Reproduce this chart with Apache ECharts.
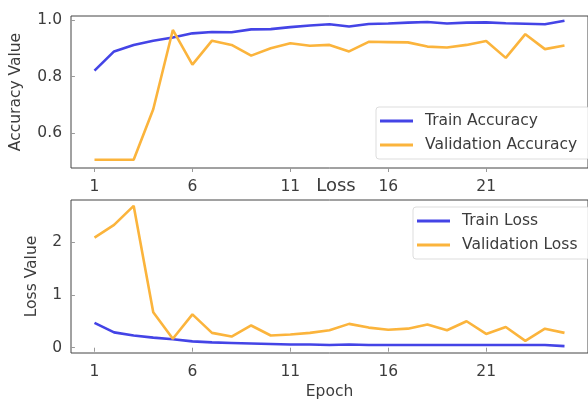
<!DOCTYPE html>
<html><head><meta charset="utf-8">
<script src="https://cdn.jsdelivr.net/npm/echarts@6/dist/echarts.min.js"></script>
<style>html,body{margin:0;padding:0;background:#fff}#c{width:588px;height:401px}</style>
</head><body><div id="c"></div>
<script>
const epochs = [1,2,3,4,5,6,7,8,9,10,11,12,13,14,15,16,17,18,19,20,21,22,23,24,25];
const trainAcc = [0.821,0.889,0.912,0.927,0.938,0.953,0.958,0.957,0.967,0.968,0.975,0.981,0.985,0.977,0.986,0.988,0.991,0.993,0.988,0.991,0.992,0.989,0.987,0.985,0.998];
const valAcc = [0.505,0.505,0.505,0.684,0.965,0.842,0.927,0.912,0.874,0.900,0.918,0.909,0.912,0.889,0.923,0.922,0.921,0.906,0.903,0.912,0.926,0.866,0.950,0.897,0.910];
const trainLoss = [0.47,0.29,0.23,0.19,0.16,0.12,0.10,0.09,0.08,0.07,0.06,0.06,0.05,0.06,0.05,0.05,0.05,0.05,0.05,0.05,0.05,0.05,0.05,0.05,0.03];
const valLoss = [2.08,2.32,2.68,0.67,0.17,0.63,0.28,0.21,0.42,0.23,0.25,0.28,0.33,0.45,0.38,0.34,0.36,0.44,0.33,0.50,0.26,0.39,0.13,0.36,0.28];
const xTicks = [1,6,11,16,21];
const accTicks = [0.6,0.8,1.0];
const lossTicks = [0,1,2];

const BLUE = '#4444e6';
const ORANGE = '#fbb43c';
const TXT = '#3c3c3c';
const FONT = 'DejaVu Sans';
const FS = 15.5;

const pairs = (ys) => epochs.map((e,i)=>[e, ys[i]]);

function xAxis(gi, name){
  return {
    type:'value', gridIndex:gi, min:-0.2, max:26.2,
    name: name, nameLocation:'middle', nameGap:31,
    nameTextStyle:{color:TXT, fontFamily:FONT, fontSize:FS},
    axisLine:{show:false}, splitLine:{show:false},
    axisTick:{show:true, customValues:xTicks, length:4, lineStyle:{color:'#999'}},
    axisLabel:{customValues:xTicks, color:TXT, fontFamily:FONT, fontSize:FS, margin:11}
  };
}
function yAxis(gi, min, max, ticks, name, fmt, gap){
  return {
    type:'value', gridIndex:gi, min:min, max:max,
    name:name, nameLocation:'middle', nameGap:gap,
    nameTextStyle:{color:TXT, fontFamily:FONT, fontSize:FS},
    axisLine:{show:false}, splitLine:{show:false},
    axisTick:{show:true, customValues:ticks, length:4, lineStyle:{color:'#999'}},
    axisLabel:{customValues:ticks, color:TXT, fontFamily:FONT, fontSize:FS, margin:9, formatter:fmt}
  };
}
function line(name, data, color, xi, yi){
  return {name:name, type:'line', xAxisIndex:xi, yAxisIndex:yi, data:pairs(data),
    showSymbol:false, symbol:'none', lineStyle:{color:color, width:2.6}, itemStyle:{color:color},
    animation:false};
}
const legendBase = {
  orient:'vertical', icon:'rect', itemWidth:33, itemHeight:3, itemGap:6,
  backgroundColor:'rgba(255,255,255,0.85)', borderColor:'#ddd', borderWidth:1, borderRadius:3,
  textStyle:{color:TXT, fontFamily:FONT, fontSize:FS, lineHeight:18, padding:[0,0,0,7]},
  selectedMode:false
};

const chart = echarts.init(document.getElementById('c'), null, {renderer:'canvas'});
chart.setOption({
  backgroundColor:'#fff',
  animation:false,
  title:{text:'Loss', left:331, top:172, textAlign:'center',
    textStyle:{color:TXT, fontFamily:FONT, fontSize:18, fontWeight:'normal'}},
  grid:[
    {left:71, top:16, width:522, height:152, show:true, borderColor:'#444', borderWidth:1, backgroundColor:'#fff', containLabel:false},
    {left:71, top:200, width:522, height:154, show:true, borderColor:'#444', borderWidth:1, backgroundColor:'#fff', containLabel:false}
  ],
  xAxis:[xAxis(0,''), xAxis(1,'Epoch')],
  yAxis:[
    yAxis(0, 0.4755, 1.0145, accTicks, 'Accuracy Value', v=>v.toFixed(1), 47),
    yAxis(1, -0.1, 2.79, lossTicks, 'Loss Value', v=>String(Math.round(v)), 31)
  ],
  legend:[
    Object.assign({}, legendBase, {data:['Train Accuracy','Validation Accuracy'], left:376, top:107, padding:[5,12,5,4]}),
    Object.assign({}, legendBase, {data:['Train Loss','Validation Loss'], left:413, top:207, padding:[5,12,5,4]})
  ],
  series:[
    line('Train Accuracy', trainAcc, BLUE, 0, 0),
    line('Validation Accuracy', valAcc, ORANGE, 0, 0),
    line('Train Loss', trainLoss, BLUE, 1, 1),
    line('Validation Loss', valLoss, ORANGE, 1, 1)
  ]
});
</script></body></html>
